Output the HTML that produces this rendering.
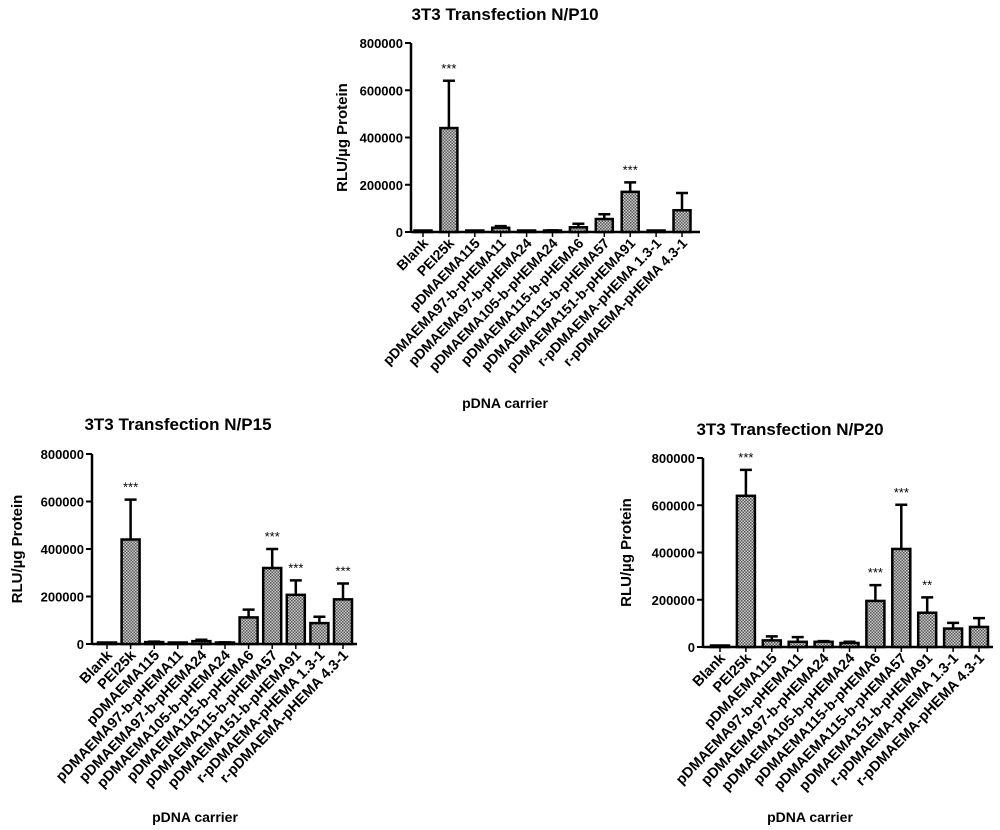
<!DOCTYPE html>
<html><head><meta charset="utf-8"><style>
body{margin:0;background:#fff;}
svg{display:block;font-family:"Liberation Sans",Arial,sans-serif;font-weight:bold;}
</style></head><body>
<svg id="root" width="1000" height="830" viewBox="0 0 1000 830">
<defs><pattern id="hatch" width="3" height="3" patternUnits="userSpaceOnUse"><rect width="3" height="3" fill="#d0d0d0"/><rect width="1.5" height="1.5" fill="#555"/><rect x="1.5" y="1.5" width="1.5" height="1.5" fill="#555"/></pattern></defs>
</svg>
<script>
const categories=["Blank","PEI25k","pDMAEMA115","pDMAEMA97-b-pHEMA11","pDMAEMA97-b-pHEMA24","pDMAEMA105-b-pHEMA24","pDMAEMA115-b-pHEMA6","pDMAEMA115-b-pHEMA57","pDMAEMA151-b-pHEMA91","r-pDMAEMA-pHEMA 1.3-1","r-pDMAEMA-pHEMA 4.3-1"];
const yTicks=[0,200000,400000,600000,800000];
const np10Values=[0,440000,3000,18000,1000,5000,20000,55000,170000,3000,92000];
const np10Errors=[0,200000,0,7000,0,2000,15000,20000,40000,0,73000];
const np10Stars=["","***","","","","","","","***","",""];
const np15Values=[0,440000,8000,3000,12000,5000,112000,320000,207000,88000,188000];
const np15Errors=[0,168000,2000,0,6000,2000,33000,80000,61000,27000,67000];
const np15Stars=["","***","","","","","","***","***","","***"];
const np20Values=[0,640000,28000,22000,22000,17000,195000,415000,145000,78000,85000];
const np20Errors=[0,110000,17000,20000,3000,5000,67000,187000,65000,24000,37000];
const np20Stars=["","***","","","","","***","***","**","",""];

const root=document.getElementById('root');
const NS='http://www.w3.org/2000/svg';
function mk(tag,attrs,parent,text){const e=document.createElementNS(NS,tag);for(const k in attrs)e.setAttribute(k,attrs[k]);if(text!==undefined)e.textContent=text;parent.appendChild(e);return e;}

function chart(cfg,values,errors,stars){
  const g=mk('g',{},root);
  
  
  const y=v=>cfg.y0-(v/800000)*(cfg.y0-cfg.y800);
  const x=i=>cfg.x0+i*cfg.step;
  const t=mk('text',{x:cfg.tx,y:cfg.ty,'text-anchor':'middle','font-size':17},g,cfg.title);
  
  
  const yt=mk('text',{x:0,y:0,'text-anchor':'middle','font-size':15,transform:`translate(${cfg.ax-cfg.ytOff},${(cfg.y0+cfg.y800)/2}) rotate(-90)`},g,'RLU/\u00b5g Protein');
  
  
  const ya=mk('line',{x1:cfg.ax,x2:cfg.ax,y1:cfg.y800,y2:cfg.y0,stroke:'#000','stroke-width':2.5},g);
  
  
  const xa=mk('line',{x1:cfg.ax,x2:cfg.xend,y1:cfg.y0,y2:cfg.y0,stroke:'#000','stroke-width':2.5},g);
  
  
  yTicks.forEach(v=>{
    mk('line',{x1:cfg.ax-6,x2:cfg.ax,y1:y(v),y2:y(v),stroke:'#000','stroke-width':2},g);
    const tl=mk('text',{x:cfg.ax-8,y:y(v)+5,'text-anchor':'end','font-size':13},g,String(v));
    
    
  });
  categories.forEach((c,i)=>{
    const cx=x(i),v=values[i],e=errors[i];
    mk('line',{x1:cx,x2:cx,y1:cfg.y0,y2:cfg.y0+5,stroke:'#000','stroke-width':1.5},g);
    if(e>0){
      const el=mk('path',{d:`M${cx} ${y(v)} V${y(v+e)} M${cx-6} ${y(v+e)} H${cx+6}`,stroke:'#000','stroke-width':2.5,fill:'none'},g);
      
      
    }
    const h=Math.max(cfg.y0-y(v),1.5);
    const b=mk('rect',{x:cx-cfg.bw/2,y:cfg.y0-h,width:cfg.bw,height:h,fill:'url(#hatch)',stroke:'#000','stroke-width':2.5},g);
    
    
    if(stars[i]){
      const s=mk('text',{x:cx,y:y(v+e)-8,'text-anchor':'middle','font-size':13,'font-weight':'normal'},g,stars[i]);
      
      
    }
    const lb=mk('text',{x:0,y:0,'text-anchor':'end','font-size':cfg.lf,transform:`translate(${cx+6},${cfg.y0+12}) rotate(-46)`},g,c);
    
    
  });
  const xt=mk('text',{x:cfg.xtx,y:cfg.xty,'text-anchor':'middle','font-size':14},g,'pDNA carrier');
  
  
}
chart({name:'chart-np10',title:'3T3 Transfection N/P10',tx:505,ty:20,ax:411,y0:232,y800:43,x0:423,step:25.9,bw:17,xend:700,ytOff:64,xtx:505,xty:408,lf:14},np10Values,np10Errors,np10Stars);
chart({name:'chart-np15',title:'3T3 Transfection N/P15',tx:178,ty:430,ax:92,y0:644,y800:454,x0:107,step:23.6,bw:18,xend:357,ytOff:70,xtx:195,xty:822,lf:14.5},np15Values,np15Errors,np15Stars);
chart({name:'chart-np20',title:'3T3 Transfection N/P20',tx:790,ty:435,ax:703,y0:647,y800:458,x0:720,step:25.9,bw:18,xend:993,ytOff:72,xtx:810,xty:822,lf:14.5},np20Values,np20Errors,np20Stars);
</script>
</body></html>
